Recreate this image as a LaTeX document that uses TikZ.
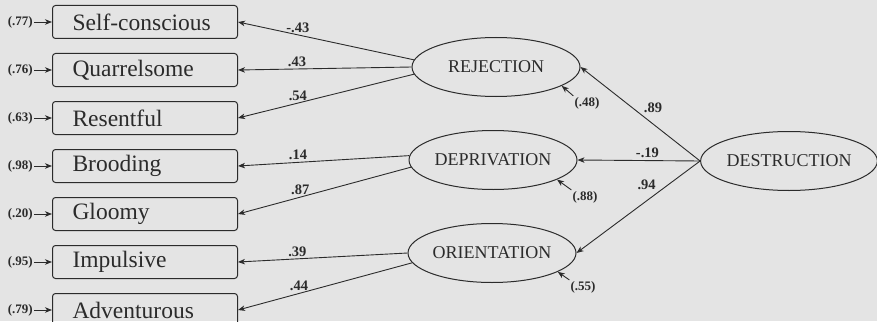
\documentclass[tikz,border=0pt]{standalone}
\usepackage{fontspec}
\setmainfont{Liberation Serif}
\usetikzlibrary{arrows.meta,positioning,shapes.geometric}
\definecolor{paper}{HTML}{E4E4E4}
\definecolor{ink}{HTML}{2B2B2B}
\tikzset{
  item/.style={draw=ink, line width=1pt, rounded corners=3pt, minimum height=33pt,
               text width=145pt, inner xsep=20pt, align=left,
               font=\fontsize{23.5}{26}\selectfont\color{ink}},
  factor/.style={ellipse, draw=ink, line width=1pt, minimum width=168pt,
                 minimum height=59pt, inner sep=0pt,
                 font=\fontsize{18}{20}\selectfont\color{ink}},
  err/.style={inner sep=1pt, font=\bfseries\fontsize{13}{15}\selectfont\color{ink}},
  load/.style={inner sep=2pt, font=\bfseries\fontsize{14.5}{16}\selectfont\color{ink}},
  link/.style={->, >={Stealth[length=7pt,width=5.5pt,inset=2pt]}, line width=0.9pt, draw=ink}
}

\begin{document}
\begin{tikzpicture}[x=1pt,y=-1pt]
  \fill[paper] (0,0) rectangle (877,321);
  \useasboundingbox (0,0) rectangle (877,321);

  % observed scales
  \node[item] (self) at (145,22) {Self-conscious};
  \node[item, below=14pt of self] (quar) {Quarrelsome};
  \node[item, below=14pt of quar] (rese) {Resentful};
  \node[item, below=14pt of rese] (brood) {Brooding};
  \node[item, below=14pt of brood] (gloom) {Gloomy};
  \node[item, below=14pt of gloom] (impu) {Impulsive};
  \node[item, below=14pt of impu] (adve) {Adventurous};

  % residuals of the scales
  \foreach \s/\v in {self/.77, quar/.76, rese/.63, brood/.98, gloom/.20, impu/.95, adve/.79}{
    \node[err, left=18pt of \s] (e\s) {(\v)};
    \draw[link] (e\s) -- (\s);
  }

  % latent factors
  \node[factor] (rej) at (496,67) {REJECTION};
  \node[factor] (dep) at (493,160) {DEPRIVATION};
  \node[factor] (ori) at (492,253) {ORIENTATION};
  \node[factor] (des) at (789,161) {DESTRUCTION};

  % loadings
  \draw[link] (rej.175) -- node[load, pos=0.66, above] {-.43} (self.east);
  \draw[link] (rej.west) -- node[load, pos=0.66, above] {.43} (quar.east);
  \draw[link] (rej.185) -- node[load, pos=0.66, above] {.54} (rese.east);
  \draw[link] (dep.177) -- node[load, pos=0.65, above] {.14} (brood.east);
  \draw[link] (dep.185) -- node[load, pos=0.64, above] {.87} (gloom.east);
  \draw[link] (ori.180) -- node[load, pos=0.65, above] {.39} (impu.east);
  \draw[link] (ori.187) -- node[load, pos=0.65, above] {.44} (adve.east);

  % second order
  \draw[link] (des.west) -- node[load, pos=0.49, anchor=south west] {.89} (rej.east);
  \draw[link] (des.west) -- node[load, pos=0.43, above] {-.19} (dep.east);
  \draw[link] (des.west) -- node[load, pos=0.34, anchor=south east] {.94} (ori.east);

  % residuals of the factors
  \node[err] (erej) at (587,103) {(.48)};
  \node[err] (edep) at (585,197) {(.88)};
  \node[err] (eori) at (583,287) {(.55)};
  \draw[link] (erej.north west) -- (rej.-16);
  \draw[link] (edep.north west) -- (dep.-17);
  \draw[link] (eori.north west) -- (ori.-16);
\end{tikzpicture}
\end{document}
